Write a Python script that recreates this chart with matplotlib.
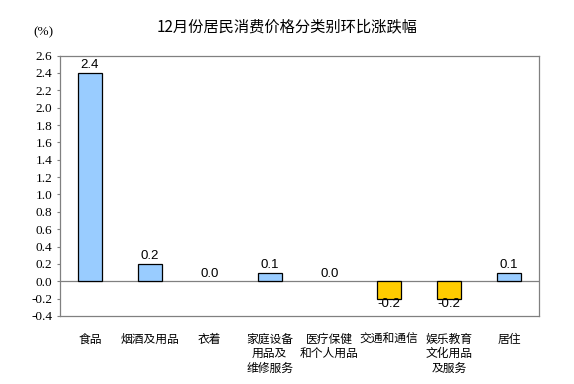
import matplotlib
matplotlib.use('Agg')
import matplotlib.pyplot as plt
import numpy as np

# Data
categories = ['食品', '烟酒及用品', '衣着', '家庭设备\n用品及\n维修服务',
              '医疗保健\n和个人用品', '交通和通信', '娱乐教育\n文化用品\n及服务', '居住']
values = [2.4, 0.2, 0.0, 0.1, 0.0, -0.2, -0.2, 0.1]
y_ticks = [-0.4, -0.2, 0.0, 0.2, 0.4, 0.6, 0.8, 1.0, 1.2, 1.4, 1.6, 1.8,
           2.0, 2.2, 2.4, 2.6]

CJK = ['Noto Sans CJK SC', 'DejaVu Sans']
POS_COLOR = '#99CCFF'
NEG_COLOR = '#FFCC00'

fig = plt.figure(figsize=(5.74, 3.84), dpi=100)
ax = fig.add_axes([60 / 574, 1 - 316 / 384, 479 / 574, 260.4 / 384])

x = np.arange(len(categories))
colors = [POS_COLOR if v >= 0 else NEG_COLOR for v in values]
widths = [0.9 if v != 0 else 0 for v in values]
ax.bar(x, values, width=0.4, color=colors, edgecolor='black', linewidth=widths, zorder=3)

ax.set_xlim(-0.5, len(categories) - 0.5)
ax.set_ylim(-0.4, 2.6)
ax.axhline(0, color='#808080', linewidth=0.9, zorder=2)

# value labels
for xi, v in zip(x, values):
    if v >= 0:
        ax.text(xi, v + 0.02, f'{v:.1f}', ha='center', va='bottom',
                fontsize=9.5, family='Liberation Sans')
    else:
        ax.text(xi, v + 0.01, f'{v:.1f}', ha='center', va='top',
                fontsize=9.5, family='Liberation Sans')

ax.set_yticks(y_ticks)
ax.set_yticklabels([f'{t:.1f}' for t in y_ticks], family='Liberation Serif', fontsize=9.5)
ax.tick_params(axis='y', direction='out', length=2.5, color='#808080', pad=3)
ax.set_xticks(x)
ax.set_xticklabels(categories, family=CJK, fontsize=8.5, linespacing=1.15)
ax.tick_params(axis='x', length=0, pad=12)

for side in ['top', 'right', 'bottom', 'left']:
    ax.spines[side].set_color('#808080')
    ax.spines[side].set_linewidth(0.9)

fig.text(287 / 574, 1 - 27 / 384, '12月份居民消费价格分类别环比涨跌幅',
         ha='center', va='center', fontsize=11, family=CJK)
fig.text(43 / 574, 1 - 32 / 384, '(%)', ha='center', va='center',
         fontsize=9.5, family='Liberation Serif')

fig.savefig('out.png', dpi=100)
